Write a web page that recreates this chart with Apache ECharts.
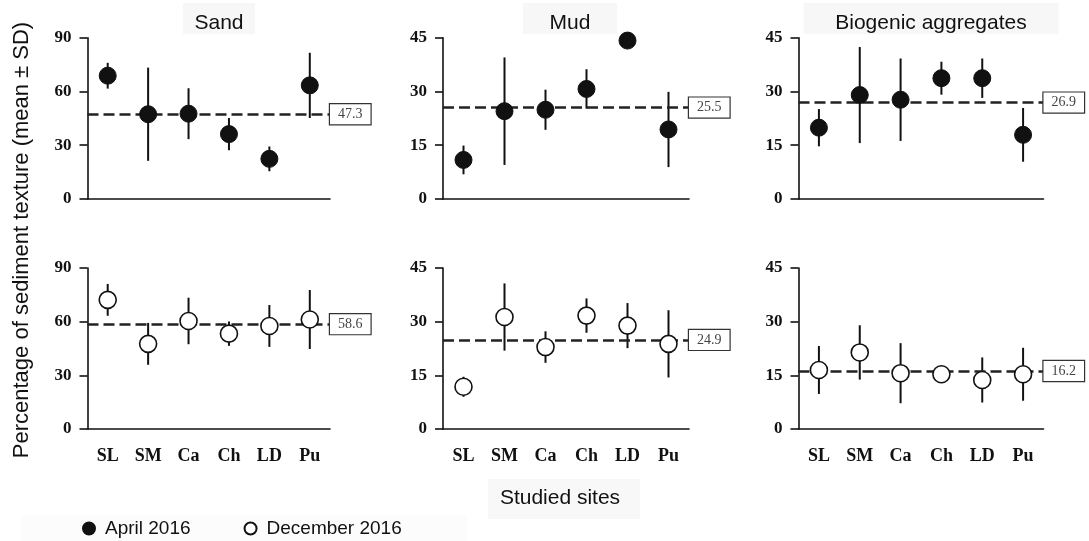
<!DOCTYPE html>
<html>
<head>
<meta charset="utf-8">
<script src="https://cdn.jsdelivr.net/npm/echarts@6/dist/echarts.min.js"></script>
<style>
html,body{margin:0;padding:0;background:#fff;}
#chart{width:1089px;height:541px;}
</style>
</head>
<body>
<div id="chart"></div>
<script>
// ---- data ----
const sites = ['SL', 'SM', 'Ca', 'Ch', 'LD', 'Pu'];
const panelTitles = ['Sand', 'Mud', 'Biogenic aggregates'];
const seasons = ['April 2016', 'December 2016'];

const sandAprMean = [68.8, 47.3, 47.6, 36.2, 22.4, 63.4];
const sandAprSD   = [7.2, 26.0, 14.2, 9.0, 6.9, 18.2];
const mudAprMean  = [10.9, 24.5, 24.9, 30.7, 44.2, 19.4];
const mudAprSD    = [4.0, 15.0, 5.6, 5.5, 0.8, 10.5];
const bioAprMean  = [19.9, 29.0, 27.7, 33.7, 33.7, 17.9];
const bioAprSD    = [5.2, 13.4, 11.5, 4.6, 5.5, 7.5];

const sandDecMean = [72.2, 47.6, 60.4, 53.3, 57.6, 61.2];
const sandDecSD   = [8.9, 11.7, 13.0, 6.8, 11.7, 16.5];
const mudDecMean  = [11.8, 31.3, 22.9, 31.7, 28.9, 23.8];
const mudDecSD    = [2.8, 9.4, 4.4, 4.8, 6.3, 9.4];
const bioDecMean  = [16.5, 21.4, 15.6, 15.3, 13.7, 15.3];
const bioDecSD    = [6.7, 7.6, 8.4, 2.2, 6.3, 7.4];

const overallMeanApr = [47.3, 25.5, 26.9];
const overallMeanDec = [58.6, 24.9, 16.2];

const yMax = [90, 45, 45];
const yInterval = [30, 15, 15];

// ---- layout ----
const colLeft = [87.5, 443, 798.5];
const colWidth = [242.5, 246, 245];
const rowTop = [37.7, 268];
const rowHeight = [161.3, 161];
const titleCenter = [219, 570, 931];
const titleBoxWidth = [72, 94, 255];

const panels = [
  {row: 0, col: 0, mean: sandAprMean, sd: sandAprSD, line: overallMeanApr[0], season: 0},
  {row: 0, col: 1, mean: mudAprMean,  sd: mudAprSD,  line: overallMeanApr[1], season: 0},
  {row: 0, col: 2, mean: bioAprMean,  sd: bioAprSD,  line: overallMeanApr[2], season: 0},
  {row: 1, col: 0, mean: sandDecMean, sd: sandDecSD, line: overallMeanDec[0], season: 1},
  {row: 1, col: 1, mean: mudDecMean,  sd: mudDecSD,  line: overallMeanDec[1], season: 1},
  {row: 1, col: 2, mean: bioDecMean,  sd: bioDecSD,  line: overallMeanDec[2], season: 1}
];

const serif = '"Liberation Serif", "Times New Roman", serif';
const sans = '"Liberation Sans", Arial, sans-serif';
const ink = '#111';

const grid = [], xAxis = [], yAxis = [], series = [];

panels.forEach((p, i) => {
  grid.push({left: colLeft[p.col], top: rowTop[p.row], width: colWidth[p.col], height: rowHeight[p.row]});
  xAxis.push({
    type: 'category', gridIndex: i, data: sites, boundaryGap: true,
    axisLine: {lineStyle: {color: ink, width: 1.6}},
    axisTick: {alignWithLabel: true, length: 6, lineStyle: {color: ink, width: 1.6}},
    axisLabel: {show: p.row === 1, margin: 18, color: ink, fontFamily: serif, fontWeight: 'bold', fontSize: 18},
    splitLine: {show: false}
  });
  yAxis.push({
    type: 'value', gridIndex: i, min: 0, max: yMax[p.col], interval: yInterval[p.col],
    axisLine: {show: true, lineStyle: {color: ink, width: 1.6}},
    axisTick: {show: true, length: 8, lineStyle: {color: ink, width: 1.6}},
    axisLabel: {margin: 16, color: ink, fontFamily: serif, fontWeight: 'bold', fontSize: 17},
    splitLine: {show: false}
  });
  const errData = sites.map((s, k) => [k, p.mean[k], p.sd[k]]);
  series.push({
    type: 'custom', xAxisIndex: i, yAxisIndex: i, z: 2,
    data: errData,
    encode: {x: 0, y: 1},
    renderItem: function (params, api) {
      const x = api.value(0), m = api.value(1), s = api.value(2);
      const a = api.coord([x, m + s]);
      const b = api.coord([x, m - s]);
      return {type: 'line', shape: {x1: a[0], y1: a[1], x2: b[0], y2: b[1]},
              style: {stroke: ink, lineWidth: 2}};
    },
    markLine: {
      silent: true, symbol: ['none', 'none'], animation: false,
      lineStyle: {type: [11, 5], color: '#222', width: 2.5},
      label: {
        show: true, position: 'end', distance: 0,
        formatter: String(p.line.toFixed(1)),
        fontFamily: serif, fontSize: 14, color: '#444',
        backgroundColor: '#fff', borderColor: '#333', borderWidth: 1.2,
        padding: [3, 8, 3, 8]
      },
      data: [{yAxis: p.line}]
    }
  });
  series.push({
    type: 'scatter', name: seasons[p.season], xAxisIndex: i, yAxisIndex: i, z: 5,
    symbol: 'circle', symbolSize: 17,
    itemStyle: p.season === 0
      ? {color: ink, borderColor: ink, borderWidth: 1, opacity: 1}
      : {color: '#fff', borderColor: ink, borderWidth: 1.6, opacity: 1},
    data: sites.map((s, k) => [k, p.mean[k]])
  });
});

const graphics = [];
panelTitles.forEach((t, c) => {
  graphics.push({type: 'rect', z: -1,
    shape: {x: titleCenter[c] - titleBoxWidth[c] / 2, y: 3, width: titleBoxWidth[c], height: 31},
    style: {fill: '#f7f7f7'}});
  graphics.push({type: 'text', x: titleCenter[c], y: 23,
    style: {text: t, font: '21px ' + sans, fill: ink, textAlign: 'center', textVerticalAlign: 'middle'}});
});
graphics.push(
  {type: 'text', x: 22, y: 240, rotation: Math.PI / 2,
   style: {text: 'Percentage of sediment texture (mean \u00b1 SD)', font: '22px ' + sans,
           fill: ink, textAlign: 'center', textVerticalAlign: 'middle'}},
  {type: 'rect', z: -1, shape: {x: 488, y: 479, width: 152, height: 40}, style: {fill: '#f8f8f8'}},
  {type: 'text', x: 560, y: 498,
   style: {text: 'Studied sites', font: '21px ' + sans, fill: ink,
           textAlign: 'center', textVerticalAlign: 'middle'}},
  {type: 'rect', z: -1, shape: {x: 22, y: 515, width: 445, height: 26}, style: {fill: '#fcfcfc'}}
);

const chart = echarts.init(document.getElementById('chart'), null, {renderer: 'canvas'});
chart.setOption({
  animation: false,
  backgroundColor: '#fff',
  grid: grid,
  xAxis: xAxis,
  yAxis: yAxis,
  series: series,
  legend: {
    data: seasons,
    left: 77, top: 514,
    icon: 'circle', itemWidth: 22, itemHeight: 12, itemGap: 53,
    textStyle: {fontFamily: sans, fontSize: 19, color: ink},
    selectedMode: false
  },
  graphic: graphics
});
</script>
</body>
</html>
